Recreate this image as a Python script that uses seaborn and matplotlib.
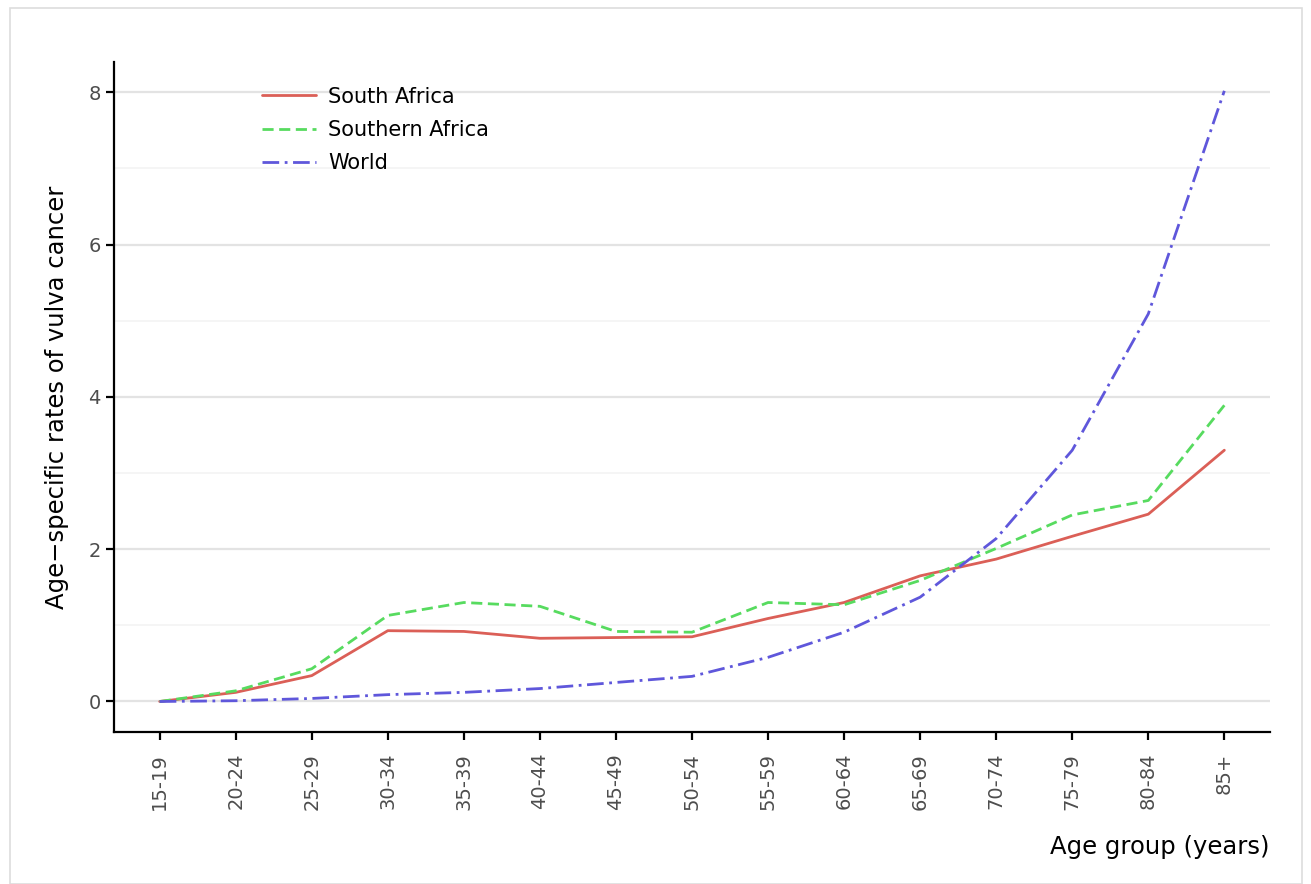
import pandas as pd
import matplotlib.pyplot as plt
import seaborn as sns
from matplotlib.patches import Rectangle
from matplotlib.ticker import MultipleLocator

# dati
age_groups = ["15-19", "20-24", "25-29", "30-34", "35-39", "40-44", "45-49", "50-54",
              "55-59", "60-64", "65-69", "70-74", "75-79", "80-84", "85+"]
south_africa = [0.0, 0.12, 0.34, 0.93, 0.92, 0.83, 0.84, 0.85, 1.09, 1.30, 1.65, 1.87, 2.17, 2.46, 3.30]
southern_africa = [0.0, 0.14, 0.43, 1.13, 1.30, 1.25, 0.92, 0.91, 1.30, 1.27, 1.59, 2.01, 2.45, 2.64, 3.89]
world = [0.0, 0.01, 0.04, 0.09, 0.12, 0.17, 0.25, 0.33, 0.58, 0.91, 1.37, 2.14, 3.30, 5.09, 8.02]
regioni = ["South Africa", "Southern Africa", "World"]

df = pd.DataFrame({
    "age": age_groups * 3,
    "rate": south_africa + southern_africa + world,
    "region": [r for r in regioni for _ in age_groups],
})

sns.set_style("white")
plt.rcParams['font.family'] = ['DejaVu Sans']
plt.rcParams['text.color'] = 'black'
plt.rcParams['axes.labelcolor'] = 'black'

fig = plt.figure(figsize=(13.11, 8.84), dpi=100)
ax = fig.add_axes([0.087, 0.172, 0.8817, 0.758])

# bordo grigio della figura
fig.patches.append(Rectangle((10 / 1311, 0), 1292 / 1311, 876 / 884, transform=fig.transFigure,
                             fill=False, edgecolor='#dddddd', linewidth=1.2))

palette = dict(zip(regioni, sns.color_palette("hls", 3)))
dashes = {"South Africa": "", "Southern Africa": (4, 2), "World": (6, 2, 1, 2)}

sns.lineplot(data=df, x="age", y="rate", hue="region", style="region", palette=palette,
             dashes=dashes, linewidth=2.0, sort=False, ax=ax)

ax.set_xlim(-0.6, 14.6)
ax.set_ylim(-0.4, 8.4)
ax.yaxis.set_major_locator(MultipleLocator(2))
ax.yaxis.set_minor_locator(MultipleLocator(1))
ax.grid(True, which='major', axis='y', color='#e3e3e3', linewidth=1.6)
ax.grid(True, which='minor', axis='y', color='#f5f5f5', linewidth=1.4)
ax.set_axisbelow(True)

for lato in ['top', 'right']:
    ax.spines[lato].set_visible(False)
for lato in ['left', 'bottom']:
    ax.spines[lato].set_color('black')
    ax.spines[lato].set_linewidth(1.6)

ax.tick_params(axis='both', which='major', direction='out', length=6, width=1.6,
               color='black', labelcolor='#4d4d4d', labelsize=14, left=True, bottom=True)
ax.tick_params(axis='x', which='major', pad=9)
ax.tick_params(axis='y', which='minor', left=False)
plt.setp(ax.get_xticklabels(), rotation=90)

ax.set_xlabel("Age group (years)", fontsize=17.5, loc='right', labelpad=18, color='black')
ax.set_ylabel("Age\u2212specific rates of vulva cancer", fontsize=17.5, labelpad=14, color='black')

leg = ax.legend(title=None, frameon=False, fontsize=15, loc='upper left',
                bbox_to_anchor=(0.128, 0.963), borderaxespad=0, borderpad=0,
                handlelength=2.6, handletextpad=0.58, labelspacing=0.63, labelcolor='black')

fig.savefig("out.png", dpi=100)
